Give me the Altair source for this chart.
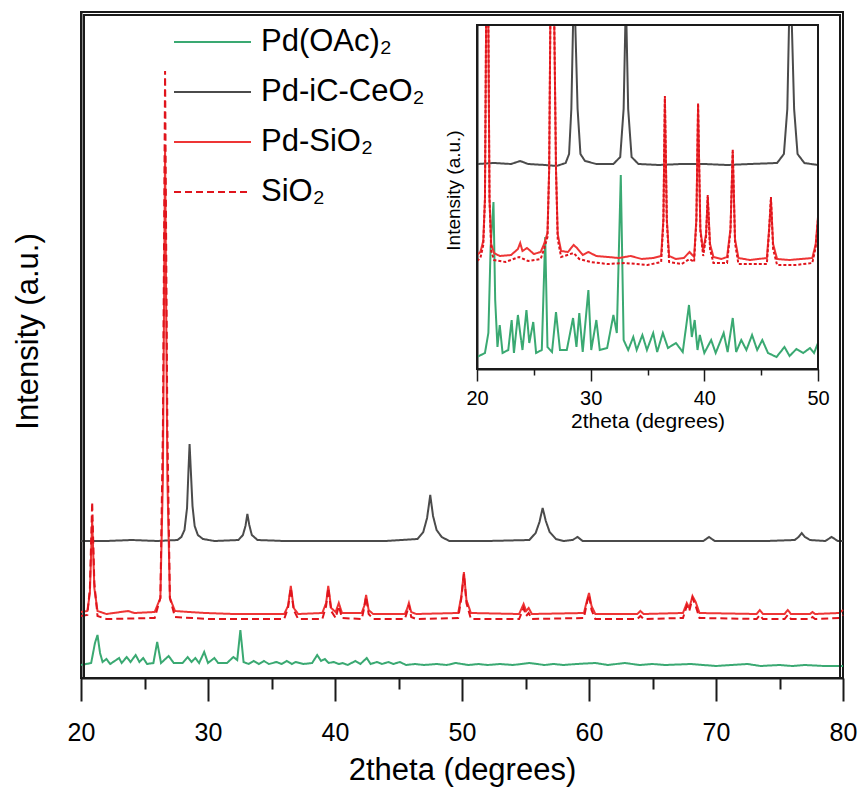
import altair as alt
import pandas as pd

FONT = "Liberation Sans"
INK = "#1a1a1a"
SERIES = ["Pd(OAc)₂", "Pd-iC-CeO₂", "Pd-SiO₂", "SiO₂"]
COLORS = ["#3aa972", "#4b4b4b", "#ee3535", "#e0141c"]
DASHES_MAIN = [[1, 0], [1, 0], [1, 0], [7, 4]]
DASHES_INSET = [[1, 0], [1, 0], [1, 0], [3, 2]]

# ---------------- main pattern (2theta, intensity a.u.) ----------------
PDOAC_MAIN = [(20.0, 13), (20.8, 15), (21.1, 35), (21.3, 43), (21.5, 25), (21.7, 16), (22.0, 19),
              (22.3, 14), (23.0, 20), (23.2, 15), (23.6, 21), (23.9, 16), (24.3, 23), (24.6, 16),
              (24.9, 20), (25.2, 14), (25.7, 15), (26.0, 36), (26.3, 15), (26.9, 22), (27.3, 15),
              (28.0, 15), (28.4, 21), (28.7, 16), (29.0, 20), (29.3, 15), (29.7, 26), (30.0, 15),
              (30.5, 20), (30.8, 15), (31.5, 15), (32.0, 21), (32.3, 18), (32.55, 48), (32.8, 16),
              (33.2, 14), (33.6, 17), (34.0, 14), (34.4, 17), (34.8, 14), (35.4, 16), (35.8, 14),
              (36.2, 17), (36.6, 14), (36.9, 16), (37.5, 14), (38.2, 15), (38.6, 23), (38.9, 17),
              (39.2, 19), (39.5, 15), (39.9, 16), (40.3, 14), (40.6, 15), (41.0, 13), (41.6, 17),
              (42.0, 14), (42.5, 20), (42.8, 14), (43.3, 16), (43.7, 14), (44.2, 16), (44.6, 14),
              (45.1, 16), (45.6, 13), (46.3, 14), (47.0, 13), (48.0, 14), (48.8, 13), (49.5, 15),
              (50.5, 13), (51.3, 14), (52.0, 13), (53.0, 14), (54.0, 13), (55.3, 15), (56.5, 13),
              (57.2, 14), (58.0, 13), (59.0, 14), (60.5, 15), (61.5, 13), (62.8, 15), (64.0, 13),
              (65.0, 14), (66.0, 13), (68.0, 14), (69.0, 13), (70.0, 12), (71.2, 13), (72.5, 14),
              (73.5, 12), (75.0, 13), (76.0, 12), (77.0, 13), (78.5, 12), (80.0, 12)]

CEO2_MAIN = [(20.0, 137), (22.0, 137), (24.0, 138), (26.0, 137), (27.6, 138), (27.9, 141),
             (28.15, 148), (28.35, 170), (28.47, 210), (28.55, 234), (28.63, 212), (28.78, 172),
             (28.95, 152), (29.2, 143), (29.6, 139), (30.5, 137), (32.4, 138), (32.75, 143),
             (32.95, 152), (33.1, 164), (33.25, 153), (33.45, 143), (33.9, 138), (36.0, 137),
             (40.0, 137), (44.0, 137), (46.5, 139), (46.95, 146), (47.25, 160), (47.5, 183),
             (47.72, 162), (48.0, 148), (48.4, 141), (49.0, 137), (52.0, 137), (55.3, 138),
             (55.8, 145), (56.1, 156), (56.35, 170), (56.6, 157), (56.9, 146), (57.4, 139),
             (58.0, 137), (58.7, 138), (59.1, 141), (59.5, 137), (63.0, 137), (69.0, 137),
             (69.45, 141), (69.9, 137), (74.0, 137), (76.2, 138), (76.5, 141), (76.75, 145),
             (77.0, 141), (77.4, 138), (78.6, 137), (79.1, 141), (79.6, 137), (80.0, 137)]

PDSIO2_MAIN = [(20.0, 66), (20.5, 67), (20.7, 85), (20.88, 158), (21.05, 90), (21.3, 67), (22.0, 64),
               (23.7, 67), (24.2, 65), (25.8, 66), (26.25, 80), (26.45, 200), (26.62, 530),
               (26.8, 200), (27.0, 80), (27.4, 67), (28.5, 66), (29.8, 65), (32.0, 64), (36.0, 64),
               (36.3, 72), (36.52, 92), (36.75, 70), (37.1, 64), (39.0, 65), (39.3, 75), (39.47, 92),
               (39.7, 70), (40.05, 66), (40.3, 75), (40.55, 65), (42.1, 65), (42.3, 72), (42.45, 83),
               (42.65, 68), (43.0, 64), (45.5, 64), (45.7, 70), (45.82, 75), (46.0, 66), (46.4, 64),
               (49.7, 65), (49.95, 82), (50.15, 106), (50.35, 78), (50.7, 65), (54.5, 64),
               (54.85, 74), (55.05, 67), (55.25, 70), (55.5, 64), (59.6, 65), (59.85, 78), (60.0, 85),
               (60.2, 72), (60.5, 64), (63.8, 64), (64.05, 67), (64.3, 64), (67.4, 65), (67.7, 75),
               (67.9, 70), (68.15, 82), (68.4, 76), (68.7, 65), (73.2, 64), (73.45, 68), (73.7, 64),
               (75.4, 64), (75.65, 68), (75.9, 64), (77.4, 64), (77.6, 66), (77.8, 64), (79.7, 65),
               (80.0, 68)]

SIO2_MAIN = [(20.0, 62), (20.5, 63), (20.7, 90), (20.88, 176), (21.05, 95), (21.3, 62), (22.0, 59),
             (25.8, 60), (26.25, 80), (26.45, 250), (26.62, 607), (26.8, 250), (27.0, 80),
             (27.4, 61), (30.0, 59), (36.0, 59), (36.3, 70), (36.52, 90), (36.75, 68), (37.1, 59),
             (39.0, 59), (39.3, 72), (39.47, 90), (39.7, 67), (40.05, 60), (40.3, 72), (40.55, 60),
             (42.1, 59), (42.3, 70), (42.45, 81), (42.65, 64), (43.0, 59), (45.5, 59), (45.7, 67),
             (45.82, 73), (46.0, 61), (46.4, 59), (49.7, 60), (49.95, 80), (50.15, 104), (50.35, 75),
             (50.7, 59), (54.5, 59), (54.85, 70), (55.05, 62), (55.25, 65), (55.5, 59), (59.6, 60),
             (59.85, 76), (60.0, 83), (60.2, 68), (60.5, 59), (63.8, 59), (64.05, 62), (64.3, 59),
             (67.4, 60), (67.7, 72), (67.9, 67), (68.15, 80), (68.4, 72), (68.7, 60), (73.2, 59),
             (73.45, 63), (73.7, 59), (75.4, 59), (75.65, 63), (75.9, 59), (77.4, 59), (77.6, 61),
             (77.8, 59), (79.7, 60), (80.0, 63)]

# ---------------- inset pattern (20-50 degrees, own offsets) ----------------
PDOAC_INSET = [(20.0, 12), (20.7, 16), (21.0, 36), (21.2, 122), (21.45, 167), (21.6, 69), (21.8, 22),
               (22.0, 44), (22.25, 16), (22.75, 19), (23.05, 49), (23.25, 16), (23.6, 54), (23.8, 36),
               (24.0, 19), (24.35, 59), (24.6, 26), (24.95, 47), (25.2, 16), (25.7, 19), (26.0, 132),
               (26.2, 22), (26.6, 17), (26.95, 57), (27.3, 19), (27.9, 19), (28.45, 51), (28.75, 22),
               (29.0, 56), (29.3, 17), (29.8, 79), (30.05, 19), (30.5, 49), (30.8, 19), (31.45, 21),
               (32.0, 54), (32.3, 36), (32.65, 194), (32.9, 29), (33.3, 19), (33.75, 32), (34.05, 19),
               (34.55, 34), (34.95, 19), (35.5, 36), (35.85, 17), (36.35, 36), (36.8, 21), (37.5, 26),
               (38.1, 17), (38.65, 64), (38.9, 32), (39.15, 49), (39.4, 19), (39.6, 34), (40.0, 16),
               (40.6, 29), (41.0, 16), (41.7, 36), (42.05, 17), (42.5, 51), (42.8, 17), (43.25, 29),
               (43.7, 19), (44.2, 34), (44.65, 19), (45.1, 29), (45.6, 16), (46.35, 12), (47.05, 22),
               (47.5, 13), (48.1, 20), (48.7, 16), (49.3, 21), (49.65, 16), (50.0, 26)]

CEO2_INSET = [(20.0, 205), (21.5, 206), (23.0, 205), (23.8, 208), (24.5, 205), (26.0, 204),
              (27.0, 203), (27.8, 206), (28.1, 215), (28.3, 260), (28.45, 600), (28.65, 600),
              (28.85, 260), (29.1, 215), (29.5, 208), (30.5, 205), (32.0, 205), (32.6, 212),
              (32.9, 260), (33.05, 500), (33.15, 500), (33.3, 260), (33.6, 212), (34.2, 205),
              (36.0, 204), (38.0, 205), (40.0, 205), (42.0, 204), (44.0, 205), (46.4, 206),
              (47.0, 215), (47.3, 260), (47.45, 600), (47.7, 600), (47.9, 260), (48.2, 215),
              (48.8, 206), (50.0, 204)]

PDSIO2_INSET = [(20.0, 114), (20.3, 117), (20.55, 128), (20.7, 170), (20.8, 400), (21.0, 400),
                (21.1, 170), (21.25, 125), (21.5, 116), (22.0, 113), (23.0, 114), (23.6, 120),
                (23.8, 126), (24.0, 118), (24.4, 121), (25.0, 115), (25.6, 117), (25.9, 125),
                (26.2, 136), (26.35, 200), (26.45, 500), (26.8, 500), (26.95, 200), (27.1, 135),
                (27.4, 118), (28.0, 117), (28.5, 124), (28.8, 121), (29.3, 114), (29.8, 117),
                (30.5, 113), (31.5, 112), (32.5, 111), (33.5, 113), (34.5, 110), (35.5, 111),
                (36.2, 113), (36.4, 150), (36.53, 271), (36.7, 150), (36.9, 113), (37.5, 110),
                (38.2, 111), (38.7, 117), (39.1, 112), (39.3, 150), (39.45, 264), (39.65, 140),
                (39.9, 118), (40.15, 135), (40.3, 172), (40.5, 125), (40.8, 112), (41.5, 110),
                (42.0, 112), (42.3, 140), (42.5, 217), (42.7, 130), (43.0, 111), (44.0, 109),
                (45.5, 111), (45.7, 140), (45.86, 169), (46.05, 125), (46.4, 110), (47.5, 109),
                (48.5, 110), (49.5, 111), (49.8, 125), (50.0, 152)]

SIO2_INSET = [(20.0, 108), (20.3, 111), (20.55, 124), (20.7, 170), (20.8, 400), (21.0, 400),
              (21.1, 170), (21.25, 118), (21.5, 109), (22.5, 107), (23.7, 112), (24.5, 108),
              (25.6, 110), (25.9, 120), (26.2, 132), (26.35, 200), (26.45, 500), (26.8, 500),
              (26.95, 200), (27.1, 130), (27.4, 112), (28.5, 116), (29.0, 110), (30.0, 107),
              (31.5, 105), (33.0, 106), (35.0, 104), (36.2, 107), (36.4, 148), (36.53, 273),
              (36.7, 148), (36.9, 107), (38.0, 105), (38.7, 110), (39.1, 107), (39.3, 148),
              (39.45, 266), (39.65, 138), (39.9, 113), (40.15, 132), (40.3, 174), (40.5, 120),
              (40.8, 106), (42.0, 106), (42.3, 138), (42.5, 220), (42.7, 126), (43.0, 105),
              (45.5, 105), (45.7, 138), (45.86, 172), (46.05, 120), (46.4, 104), (48.0, 104),
              (49.5, 106), (49.8, 122), (50.0, 150)]

MAIN_DOMAIN_X = [20, 80]
MAIN_DOMAIN_Y = [0, 666]
INSET_DOMAIN_X = [20, 50]
INSET_DOMAIN_Y = [0, 344]
MAIN_MAJOR = [20, 30, 40, 50, 60, 70, 80]
MAIN_MINOR = [25, 35, 45, 55, 65, 75]
INSET_MAJOR = [20, 30, 40, 50]
INSET_MINOR = [25, 35, 45]


def to_frame(groups):
    rows = []
    for name, pairs in groups:
        for k, (x, y) in enumerate(pairs):
            rows.append({"series": name, "x": x, "y": y, "k": k})
    return pd.DataFrame(rows)


main_df = to_frame(zip(SERIES, [PDOAC_MAIN, CEO2_MAIN, PDSIO2_MAIN, SIO2_MAIN]))
inset_df = to_frame(zip(SERIES, [PDOAC_INSET, CEO2_INSET, PDSIO2_INSET, SIO2_INSET]))

legend = alt.Legend(
    title=None, orient="none", legendX=92, legendY=6, symbolType="stroke",
    symbolSize=5929, symbolStrokeWidth=2, labelFont=FONT, labelFontSize=31,
    labelColor="black", labelOffset=9, labelLimit=500, clipHeight=48, rowPadding=2,
    padding=0,
)

main_x_scale = alt.Scale(domain=MAIN_DOMAIN_X, nice=False, zero=False)
main_y_scale = alt.Scale(domain=MAIN_DOMAIN_Y, nice=False, zero=False)

main_lines = alt.Chart(main_df).mark_line(strokeWidth=2).encode(
    x=alt.X("x:Q", scale=main_x_scale,
            axis=alt.Axis(values=MAIN_MAJOR, tickSize=23, tickWidth=2, tickColor=INK,
                          domainWidth=2, domainColor=INK, labelFont=FONT, labelFontSize=25,
                          labelColor="black", labelPadding=19, labelFlush=False,
                          labelOverlap=False, grid=False, title="2theta (degrees)",
                          titleFont=FONT, titleFontSize=31, titleFontWeight="normal",
                          titleColor="black", titlePadding=10)),
    y=alt.Y("y:Q", scale=main_y_scale,
            axis=alt.Axis(labels=False, ticks=False, domainWidth=2, domainColor=INK,
                          grid=False, title="Intensity (a.u.)", titleFont=FONT,
                          titleFontSize=31, titleFontWeight="normal", titleColor="black",
                          titlePadding=37, titleY=319)),
    color=alt.Color("series:N", scale=alt.Scale(domain=SERIES, range=COLORS), legend=legend),
    strokeDash=alt.StrokeDash("series:N", scale=alt.Scale(domain=SERIES, range=DASHES_MAIN),
                              legend=legend),
    order="k:Q",
)

# minor ticks of the main x axis
main_minor = alt.Chart(pd.DataFrame({"x": MAIN_DOMAIN_X})).mark_point(opacity=0).encode(
    x=alt.X("x:Q", scale=main_x_scale,
            axis=alt.Axis(orient="bottom", values=MAIN_MINOR, tickSize=11, tickWidth=2,
                          tickColor=INK, labels=False, domain=False, grid=False, title=None)),
    y=alt.value(0),
)

# box round the main plot, drawn as a rectangle over the full data domain
main_frame_df = pd.DataFrame({"x": [MAIN_DOMAIN_X[0]], "x2": [MAIN_DOMAIN_X[1]],
                              "y": [MAIN_DOMAIN_Y[0]], "y2": [MAIN_DOMAIN_Y[1]]})
main_border = alt.Chart(main_frame_df).mark_rect(
    fillOpacity=0, stroke=INK, strokeWidth=2).encode(
    x=alt.X("x:Q", scale=alt.Scale(domain=MAIN_DOMAIN_X, range=[3, 759], nice=False, zero=False),
            axis=None),
    x2="x2:Q",
    y=alt.Y("y:Q", scale=alt.Scale(domain=MAIN_DOMAIN_Y, range=[666, 3], nice=False, zero=False),
            axis=None),
    y2="y2:Q",
)

inset_x_scale = alt.Scale(domain=INSET_DOMAIN_X, range=[396, 737], nice=False, zero=False)
inset_y_scale = alt.Scale(domain=INSET_DOMAIN_Y, range=[357, 13], nice=False, zero=False,
                          clamp=True)
inset_x_axis = alt.Axis(orient="bottom", offset=-309, values=INSET_MAJOR, tickSize=12,
                        tickWidth=1.5, tickColor=INK, domainWidth=2, domainColor=INK,
                        labelFont=FONT, labelFontSize=20, labelColor="black", labelPadding=7,
                        labelFlush=False, grid=False, title="2theta (degrees)", titleFont=FONT,
                        titleFontSize=21, titleFontWeight="normal", titleColor="black",
                        titlePadding=2)
inset_y_axis = alt.Axis(orient="left", offset=-396, labels=False, ticks=False, domainWidth=2,
                        domainColor=INK, grid=False, title="Intensity (a.u.)", titleFont=FONT,
                        titleFontSize=19, titleFontWeight="normal", titleColor="black",
                        titlePadding=14, titleY=178)

inset_lines = alt.Chart(inset_df).mark_line(strokeWidth=2).encode(
    x=alt.X("x:Q", scale=inset_x_scale, axis=inset_x_axis),
    y=alt.Y("y:Q", scale=inset_y_scale, axis=inset_y_axis),
    color=alt.Color("series:N", scale=alt.Scale(domain=SERIES, range=COLORS), legend=None),
    strokeDash=alt.StrokeDash("series:N", scale=alt.Scale(domain=SERIES, range=DASHES_INSET),
                              legend=None),
    order="k:Q",
)

frame_df = pd.DataFrame({"x": [INSET_DOMAIN_X[0]], "x2": [INSET_DOMAIN_X[1]],
                         "y": [INSET_DOMAIN_Y[0]], "y2": [INSET_DOMAIN_Y[1]]})
inset_frame = alt.Chart(frame_df).mark_rect(fillOpacity=0, stroke=INK, strokeWidth=2).encode(
    x=alt.X("x:Q", scale=inset_x_scale, axis=inset_x_axis),
    x2="x2:Q",
    y=alt.Y("y:Q", scale=inset_y_scale, axis=inset_y_axis),
    y2="y2:Q",
)

inset = alt.layer(inset_lines, inset_frame)

inset_minor = alt.Chart(pd.DataFrame({"x": INSET_DOMAIN_X})).mark_point(opacity=0).encode(
    x=alt.X("x:Q", scale=inset_x_scale,
            axis=alt.Axis(orient="bottom", offset=-309, values=INSET_MINOR, tickSize=6,
                          tickWidth=1.5, tickColor=INK, labels=False, domain=False, grid=False,
                          title=None)),
    y=alt.value(0),
)

chart = alt.layer(main_lines, main_minor, main_border, inset, inset_minor).resolve_scale(
    x="independent", y="independent", color="independent", strokeDash="independent"
).properties(
    width=762, height=666,
    padding={"left": 81, "top": 12, "right": 17, "bottom": 113},
    autosize=alt.AutoSizeParams(type="none"),
).configure_view(stroke=INK, strokeWidth=2)

chart.save("out.html", embed_options={"renderer": "svg", "actions": False})
